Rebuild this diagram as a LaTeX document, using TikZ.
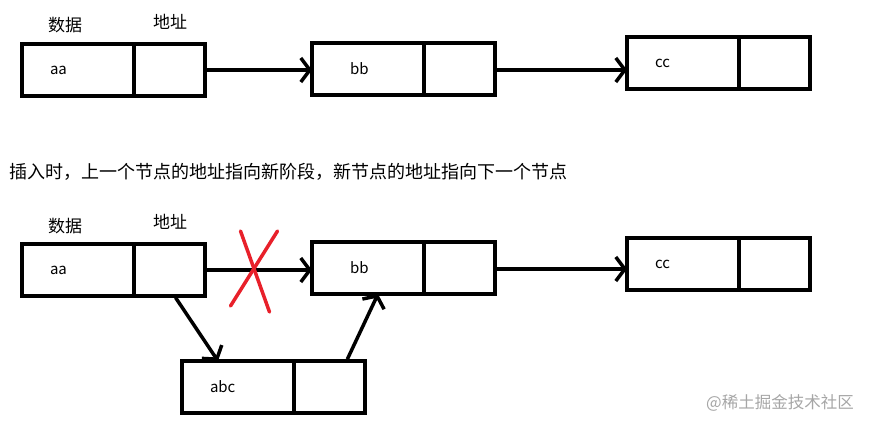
\documentclass[tikz,border=0pt]{standalone}
\usepackage{fontspec}
\setmainfont{Noto Sans CJK SC}
\usetikzlibrary{arrows.meta, calc, positioning}
\definecolor{crossred}{HTML}{E8202A}
\tikzset{
  >={Straight Barb[length=9pt, width=24pt]},
  every picture/.style={line join=miter},
  % one list node = data cell + pointer cell
  cell/.style={draw, line width=3.5pt, minimum height=52pt, inner sep=0pt, outer sep=0pt},
  datacell/.style={cell, minimum width=112pt, text width=56pt, align=left,
    font=\fontsize{15}{18}\selectfont},
  ptrcell/.style={cell, minimum width=71pt},
  link/.style={->, line width=3.5pt},
  head/.style={font=\fontsize{17}{20}\selectfont},
  cross/.style={crossred, line width=3.5pt, line cap=round},
}

\begin{document}
\begin{tikzpicture}[x=1pt, y=-1pt]
  \useasboundingbox (0,0) rectangle (877,429);
  % ---------------- before insertion
  \node[datacell] (a) at (78,70) {aa};
  \node[ptrcell, right=0pt of a] (aptr) {};
  \node[datacell] (b) at (368,69) {\hspace{10pt}bb};
  \node[ptrcell, right=0pt of b] (bptr) {};
  \node[datacell] (c) at (683,63) {cc};
  \node[ptrcell, right=0pt of c] (cptr) {};
  \node[head] (adata) at (65,25) {数据};
  \node[head] (aaddr) at (170,22) {地址};
  \draw[link, shorten <=2pt] (aptr.east) -- (aptr.east -| b.west);
  \draw[link, shorten <=2pt] ([yshift=-1pt]bptr.east) -- ([yshift=-1pt]bptr.east -| c.west);
  % ---------------- caption
  \node[anchor=west, font=\fontsize{18}{21}\selectfont] (note) at (6,172)
    {插入时，上一个节点的地址指向新阶段，新节点的地址指向下一个节点};
  % ---------------- after insertion
  \node[datacell] (a2) at (78,270) {aa};
  \node[ptrcell, right=0pt of a2] (a2ptr) {};
  \node[datacell] (b2) at (368,268) {\hspace{10pt}bb};
  \node[ptrcell, right=0pt of b2] (b2ptr) {};
  \node[datacell] (c2) at (683,264) {cc};
  \node[ptrcell, right=0pt of c2] (c2ptr) {};
  \node[datacell] (d) at (238,387) {abc};
  \node[ptrcell, right=0pt of d] (dptr) {};
  \node[head] (a2data) at (65,226) {数据};
  \node[head] (a2addr) at (170,222) {地址};
  \draw[link, shorten <=2pt] (a2ptr.east) -- (a2ptr.east -| b2.west)
    coordinate[pos=0.5] (cut);
  \draw[link, shorten <=2pt] ([yshift=-1pt]b2ptr.east) -- ([yshift=-1pt]b2ptr.east -| c2.west);
  \draw[link, shorten <=2pt] ([xshift=5pt]a2ptr.south) -- ([xshift=-20pt]d.north);
  \draw[link, shorten <=2pt] ([xshift=17pt]dptr.north) -- ([xshift=10pt]b2.south);
  % old link is cut
  \draw[cross] ($(cut)+(-18,-39)$) -- ($(cut)+(11,42)$);
  \draw[cross] ($(cut)+(19,-39)$) -- ($(cut)+(-28,36)$);
  % ---------------- watermark
  \node[gray!70, font=\fontsize{16.5}{19}\selectfont] (mark) at (780,403) {@稀土掘金技术社区};
\end{tikzpicture}
\end{document}
